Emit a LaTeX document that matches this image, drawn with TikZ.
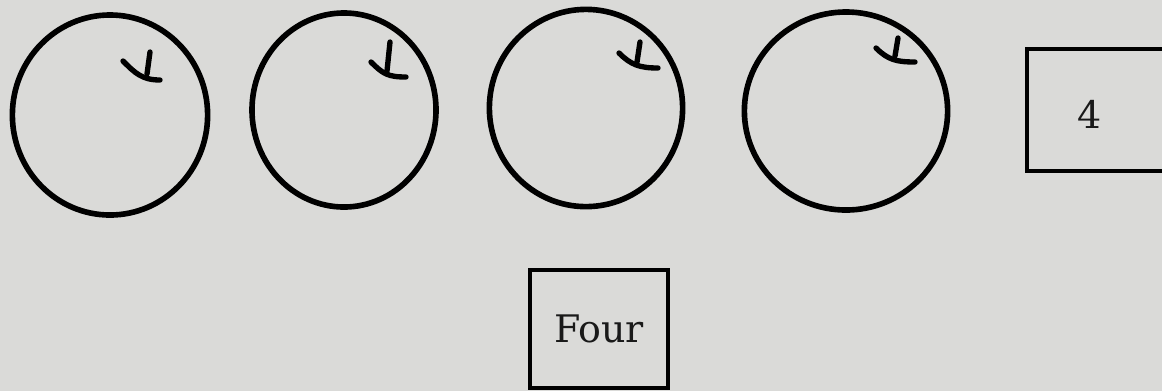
\documentclass[tikz,border=0pt]{standalone}
\usepackage{fontspec}
\usetikzlibrary{shapes.geometric}
\newfontfamily\printfont{DejaVu Serif}
\definecolor{paper}{RGB}{218,218,216}

\begin{document}
\begin{tikzpicture}[
  x=0.025cm, y=-0.025cm,
  apple/.style={draw=black, ellipse, line width=4pt, inner sep=0pt},
  stem/.style={draw=black, line width=3.8pt, line cap=round},
  card/.style={draw=black, line width=3pt, inner sep=0pt},
  lbl/.style={font=\printfont\fontsize{27}{29}\selectfont, text=black!90}
]
% page and background
\fill[paper] (0,0) rectangle (1162,391);
\useasboundingbox (0,0) rectangle (1162,391);
\clip (0,0) rectangle (1162,391);

% apples
\node[apple, minimum width=4.88cm, minimum height=5.0cm] (apple1) at (110,115) {};
\node[apple, minimum width=4.6cm, minimum height=4.85cm] (apple2) at (344,110) {};
\node[apple, minimum width=4.83cm, minimum height=4.93cm] (apple3) at (586,108) {};
\node[apple, minimum width=5.08cm, minimum height=4.95cm] (apple4) at (846,111) {};

% stems
\foreach \a/\b/\c/\d/\e/\f in {123/61/160/80/150/52,371/62/406/77/390/42,619/53/658/68/640/42,876/48/915/62/898/38}{
  \draw[stem] (\a,\b) .. controls (\a+12,\b+12) and (\c-18,\d) .. (\c,\d);
  \draw[stem] (\e,\f) -- (\e-3,\d-6);
}

% number box
\node[card, minimum width=3.6cm, minimum height=3.05cm] (box4) at (1099,110) {};
\node[lbl] (num4) at (1090,114) {4};

% word box
\node[card, lbl, minimum width=3.45cm, minimum height=2.95cm] (word4) at (599,329) {Four};
\end{tikzpicture}
\end{document}
